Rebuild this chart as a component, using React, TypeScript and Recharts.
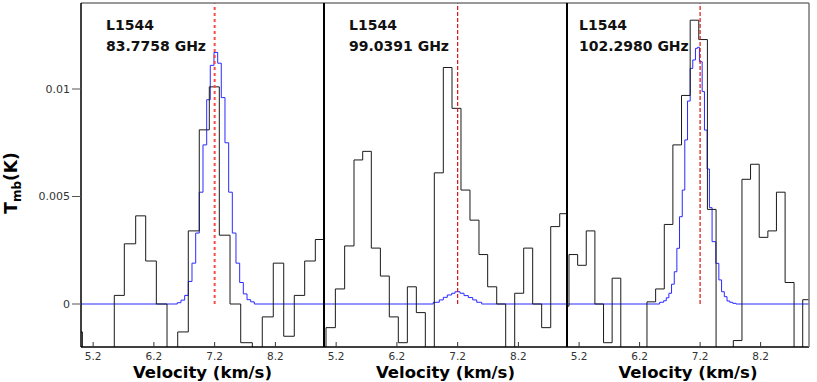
import { Label, Line, LineChart, ReferenceLine, XAxis, YAxis } from "recharts";

const SOURCE = "L1544";
const FREQS = ["83.7758 GHz", "99.0391 GHz", "102.2980 GHz"];
const VEL_TICKS = [5.2, 6.2, 7.2, 8.2];
const TMB_TICKS = [0, 0.005, 0.01];
const V_LSR = 7.2;

// observed spectra: channel edges (km/s) and Tmb per channel (K)
const obsEdges1 = [4.85, 5.023, 5.198, 5.373, 5.548, 5.713, 5.9, 6.065, 6.24, 6.416, 6.592, 6.766, 6.947, 7.112, 7.277, 7.453, 7.629, 7.82, 7.984, 8.165, 8.337, 8.511, 8.682, 8.857, 9.03];
const obsTmb1 = [-0.0013, -0.003, -0.003, -0.003, 0.0004, 0.0028, 0.0041, 0.002, 0, -0.003, -0.0013, 0.0034, 0.0081, 0.0101, 0.0032, 0, -0.0018, -0.003, -0.0006, 0.0019, -0.0015, 0.0004, 0.002, 0.003];

const obsEdges2 = [4.885, 5.033, 5.187, 5.34, 5.494, 5.637, 5.779, 5.928, 6.075, 6.223, 6.372, 6.52, 6.668, 6.816, 6.964, 7.107, 7.255, 7.403, 7.551, 7.694, 7.843, 7.991, 8.139, 8.287, 8.435, 8.583, 8.732, 8.88, 9.028];
const obsTmb2 = [-0.003, -0.0011, 0.0007, 0.0027, 0.0067, 0.0071, 0.0026, 0.0013, -0.0006, -0.0018, 0.0008, -0.0004, -0.003, 0.0061, 0.011, 0.0091, 0.0053, 0.0039, 0.0023, 0.0008, 0, -0.003, 0.0005, 0.0026, 0, -0.0011, 0.0036, 0.0042];

const obsEdges3 = [4.89, 5.033, 5.176, 5.318, 5.461, 5.604, 5.746, 5.889, 6.032, 6.18, 6.322, 6.465, 6.608, 6.75, 6.893, 7.036, 7.178, 7.321, 7.464, 7.606, 7.749, 7.892, 8.034, 8.177, 8.32, 8.462, 8.605, 8.753, 8.896, 9.04];
const obsTmb3 = [-0.0001, 0.0023, 0.0018, 0.0034, 0, -0.0018, 0.0012, -0.003, -0.003, -0.003, 0.0001, 0.0007, 0.0037, 0.0074, 0.0097, 0.0132, 0.0123, 0.0044, -0.003, -0.003, -0.0017, 0.0058, 0.0065, 0.0031, 0.0034, 0.0052, 0.001, -0.003, 0.0002];

// model spectra
const modEdges1 = [5.0, 6.585, 6.646, 6.707, 6.766, 6.827, 6.888, 6.947, 7.008, 7.069, 7.128, 7.189, 7.25, 7.309, 7.37, 7.431, 7.491, 7.551, 7.612, 7.672, 7.733, 7.793, 7.853, 9.0];
const modTmb1 = [0, 0.00006, 0.00018, 0.0004, 0.00105, 0.0019, 0.0033, 0.0052, 0.0074, 0.0095, 0.0111, 0.0117, 0.0112, 0.0096, 0.0075, 0.0052, 0.0033, 0.0019, 0.001, 0.00047, 0.0002, 0.0001, 0];

const modEdges2 = [5.0, 6.799, 6.898, 6.964, 7.03, 7.102, 7.156, 7.239, 7.305, 7.376, 7.448, 7.514, 7.596, 9.0];
const modTmb2 = [0, 0.00008, 0.00019, 0.00031, 0.00042, 0.0005, 0.00057, 0.0005, 0.00039, 0.0003, 0.00019, 0.00008, 0];

const modEdges3 = [5.0, 6.531, 6.597, 6.641, 6.684, 6.728, 6.773, 6.816, 6.86, 6.905, 6.947, 6.992, 7.036, 7.079, 7.123, 7.156, 7.189, 7.234, 7.272, 7.316, 7.354, 7.398, 7.46, 7.51, 7.555, 7.6, 7.645, 7.69, 7.74, 7.793, 9.0];
const modTmb3 = [0, 0.00008, 0.00015, 0.00029, 0.0005, 0.00092, 0.0015, 0.00259, 0.00406, 0.0053, 0.00763, 0.00944, 0.01096, 0.01135, 0.01189, 0.01194, 0.01127, 0.00988, 0.00809, 0.00628, 0.00448, 0.0029, 0.00189, 0.00112, 0.00057, 0.00034, 0.00014, 0.00008, 0.00003, 0];

const FONT = "DejaVu Sans";
const HEIGHT = 382;

const toSteps = (edges: number[], vals: number[]) =>
  edges.map((v, i) => ({ v, t: vals[Math.min(i, vals.length - 1)] }));

const VelTick = (props: any) => {
  const { x, y, payload } = props;
  return (
    <g>
      <line x1={x} x2={x} y1={y} y2={y - 5} stroke="#333" />
      <text x={x} y={y + 13} textAnchor="middle" fontSize={10.5} fontFamily={FONT} fill="#333">
        {payload.value.toFixed(1)}
      </text>
    </g>
  );
};

type PanelProps = {
  left: number;
  width: number;
  marginLeft: number;
  axisWidth: number;
  obsEdges: number[];
  obsTmb: number[];
  modEdges: number[];
  modTmb: number[];
  freq: string;
  titleDx: number;
  first?: boolean;
  last?: boolean;
};

const Panel = (p: PanelProps) => {
  const obs = toSteps(p.obsEdges, p.obsTmb);
  const mod = toSteps(p.modEdges, p.modTmb);
  return (
    <div style={{ position: "absolute", left: p.left, top: 0 }}>
      <LineChart width={p.width} height={HEIGHT} margin={{ top: 3, right: 6, left: p.marginLeft, bottom: 0 }}>
        <XAxis
          dataKey="v"
          type="number"
          domain={[5, 9]}
          allowDataOverflow
          ticks={VEL_TICKS}
          height={35}
          tickLine={false}
          tickSize={0}
          tickMargin={0}
          tick={<VelTick />}
          axisLine={{ stroke: "#000", strokeWidth: 1.5 }}
        >
          <Label
            content={(lp: any) => {
              const vb = lp.viewBox || {};
              const cx = (vb.x ?? 0) + (vb.width ?? 0) / 2;
              return (
                <text
                  x={cx}
                  y={378}
                  textAnchor="middle"
                  fontFamily={FONT}
                  fontWeight="bold"
                  fontSize={16.5}
                  fill="#000"
                >
                  Velocity (km/s)
                </text>
              );
            }}
          />
        </XAxis>
        <XAxis
          xAxisId="top"
          orientation="top"
          type="number"
          domain={[5, 9]}
          ticks={VEL_TICKS}
          mirror
          height={1}
          tick={false}
          tickLine={false}
          axisLine={{ stroke: "#777", strokeWidth: 1.5 }}
        >
          <Label
            content={(lp: any) => {
              const vb = lp.viewBox || {};
              const tx = (vb.x ?? 0) + p.titleDx;
              return (
                <g fontFamily={FONT} fontWeight="bold" fontSize={14} fill="#111">
                  <text x={tx} y={30}>{SOURCE}</text>
                  <text x={tx} y={51}>{p.freq}</text>
                </g>
              );
            }}
          />
        </XAxis>
        {p.first ? (
          <YAxis
            type="number"
            domain={[-0.002, 0.014]}
            allowDataOverflow
            ticks={TMB_TICKS}
            width={p.axisWidth}
            tickSize={9}
            tickLine={{ stroke: "#555" }}
            tick={{ fontSize: 11, fill: "#333", fontFamily: FONT }}
            axisLine={{ stroke: "#000", strokeWidth: 1.5 }}
          >
            <Label
              content={() => (
                <text
                  x={17}
                  y={183}
                  transform="rotate(-90 17 183)"
                  textAnchor="middle"
                  fontFamily={FONT}
                  fontWeight="bold"
                  fontSize={17}
                  fill="#000"
                >
                  T<tspan fontSize={12} dy={4}>mb</tspan>
                  <tspan dy={-4}>(K)</tspan>
                </text>
              )}
            />
          </YAxis>
        ) : (
          <YAxis
            type="number"
            domain={[-0.002, 0.014]}
            allowDataOverflow
            ticks={TMB_TICKS}
            width={1}
            mirror
            tick={false}
            tickSize={8}
            tickLine={{ stroke: "#555" }}
            axisLine={{ stroke: "#000", strokeWidth: 2 }}
          />
        )}
        {p.last && (
          <YAxis
            yAxisId="r"
            orientation="right"
            type="number"
            domain={[-0.002, 0.014]}
            ticks={TMB_TICKS}
            mirror
            width={1}
            tick={false}
            tickLine={false}
            axisLine={{ stroke: "#777", strokeWidth: 1.5 }}
          />
        )}
        <Line
          data={mod}
          dataKey="t"
          type="stepAfter"
          stroke="#2a2aff"
          strokeWidth={1}
          dot={false}
          activeDot={false}
          isAnimationActive={false}
        />
        <Line
          data={obs}
          dataKey="t"
          type="stepAfter"
          stroke="#1a1a1a"
          strokeWidth={1}
          dot={false}
          activeDot={false}
          isAnimationActive={false}
        />
        <ReferenceLine
          segment={[{ x: V_LSR, y: 0 }, { x: V_LSR, y: 0.014 }]}
          stroke={p.first ? "#ff4a4a" : "#e01010"}
          strokeWidth={p.first ? 2 : 1.2}
          strokeDasharray={p.first ? "3 3" : "4 2"}
        />
      </LineChart>
    </div>
  );
};

export default function App() {
  return (
    <div style={{ position: "absolute", left: 0, top: 0, width: 817, height: HEIGHT, background: "#fff" }}>
      <Panel left={0} width={330} marginLeft={0} axisWidth={81} obsEdges={obsEdges1} obsTmb={obsTmb1} modEdges={modEdges1} modTmb={modTmb1} freq={FREQS[0]} titleDx={25} first />
      <Panel left={320} width={253} marginLeft={4} axisWidth={0} obsEdges={obsEdges2} obsTmb={obsTmb2} modEdges={modEdges2} modTmb={modTmb2} freq={FREQS[1]} titleDx={25} />
      <Panel left={563} width={252} marginLeft={4} axisWidth={0} obsEdges={obsEdges3} obsTmb={obsTmb3} modEdges={modEdges3} modTmb={modTmb3} freq={FREQS[2]} titleDx={12} last />
    </div>
  );
}
